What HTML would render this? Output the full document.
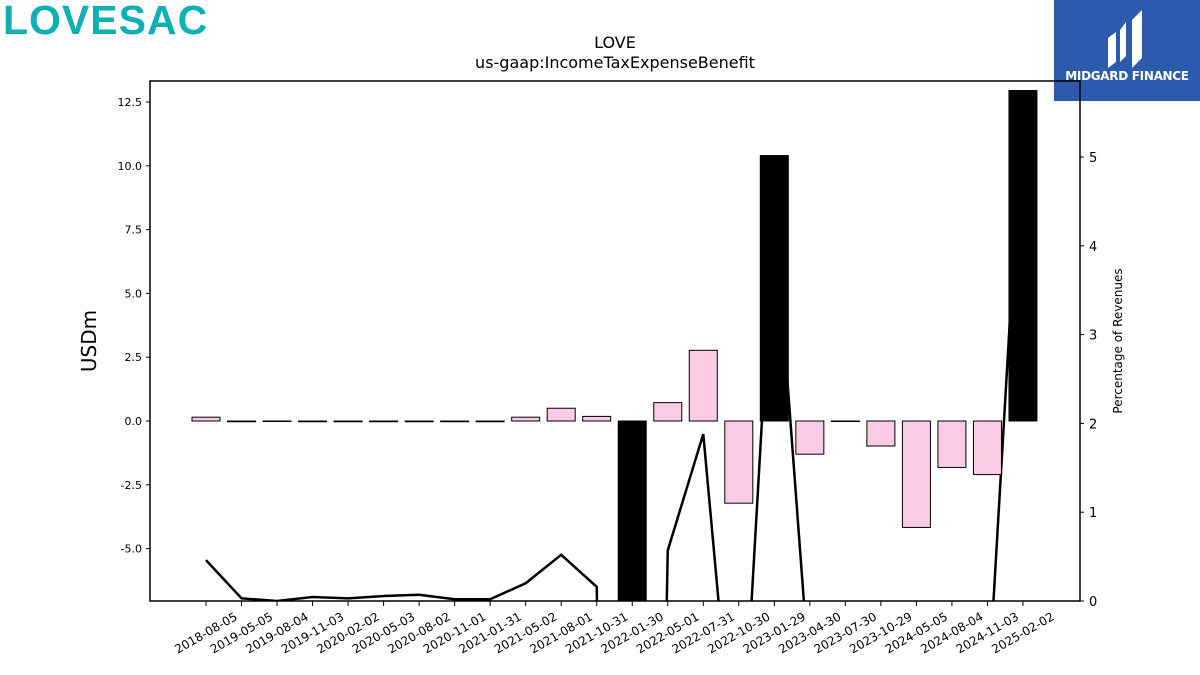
<!DOCTYPE html>
<html><head><meta charset="utf-8"><style>
body{margin:0;width:1200px;height:675px;background:#fff;overflow:hidden;font-family:"DejaVu Sans",sans-serif;position:relative}
</style></head><body>
<div style="position:absolute;left:3px;top:-3px;font:bold 41px 'Liberation Sans',sans-serif;color:#0fb0b5;letter-spacing:1px">LOVESAC</div>
<div style="position:absolute;left:1054px;top:0;width:146px;height:101px;background:#2c5aac;color:#fff">
<svg width="146" height="70"><path d="M54 38 L62 32 L62 62 L54 68Z M66 30 L72 22 L72 56 L66 62Z M78 20 L88 10 L88 58 L78 68Z" fill="#fff"/></svg>
<div style="position:absolute;left:0;width:146px;top:69px;text-align:center;font:bold 12px 'DejaVu Sans',sans-serif;letter-spacing:-0.3px">MIDGARD FINANCE</div></div>
<svg id="chart" width="1200" height="675" style="position:absolute;left:0;top:0"></svg>
<script>
const categories=["2018-08-05","2019-05-05","2019-08-04","2019-11-03","2020-02-02","2020-05-03","2020-08-02","2020-11-01","2021-01-31","2021-05-02","2021-08-01","2021-10-31","2022-01-30","2022-05-01","2022-07-31","2022-10-30","2023-01-29","2023-04-30","2023-07-30","2023-10-29","2024-05-05","2024-08-04","2024-11-03","2025-02-02"];
const barValues=[0.15,-0.03,-0.01,-0.03,-0.03,-0.03,-0.03,-0.03,-0.03,0.15,0.5,0.18,-8,0.72,2.77,-3.22,10.4,-1.3,-0.02,-0.98,-4.17,-1.82,-2.1,12.95];
const barColors=["pink","pink","pink","pink","pink","pink","pink","pink","pink","pink","pink","pink","black","pink","pink","pink","black","pink","pink","pink","pink","pink","pink","black"];
const pctValues=[0.46,0.03,0.0,0.045,0.03,0.056,0.07,0.02,0.02,0.2,0.52,0.16,-20,0.57,1.88,-2.5,4.45,-0.9,-2,-2,-2,-2,-1.16,5.68];
const leftTicks=[-5,-2.5,0,2.5,5,7.5,10,12.5];
const rightTicks=[0,1,2,3,4,5];
const svg=document.getElementById('chart');const NS='http://www.w3.org/2000/svg';
const L=150,R=1080,T=81,B=601;
const yL=v=>421-v*25.52, yR=v=>601-v*88.8, x=i=>206+i*35.52;
function mk(t,a,p){const e=document.createElementNS(NS,t);for(const k in a)e.setAttribute(k,a[k]);(p||svg).appendChild(e);return e;}
const defs=mk('defs',{});const cp=mk('clipPath',{id:'c'},defs);mk('rect',{x:L,y:T,width:R-L,height:B-T},cp);
const g=mk('g',{'clip-path':'url(#c)'});
const pl=mk('polyline',{points:pctValues.map((v,i)=>x(i)+','+yR(v)).join(' '),fill:'none',stroke:'#000','stroke-width':2.5},g);


barValues.forEach((v,i)=>{const y0=yL(0),y1=yL(v);
const r=mk('rect',{x:x(i)-14,y:Math.min(y0,y1),width:28,height:Math.max(Math.abs(y1-y0),0.5),fill:barColors[i]=='black'?'#000':'#fbcbe5',stroke:'#000','stroke-width':1},g);

});
const fr=mk('rect',{x:L,y:T,width:R-L,height:B-T,fill:'none',stroke:'#000','stroke-width':1.5});


leftTicks.forEach(v=>{const y=yL(v);mk('line',{x1:L-4,x2:L,y1:y,y2:y,stroke:'#000'});
const t=mk('text',{x:L-8,y:y+4,'text-anchor':'end','font-size':11});t.textContent=v.toFixed(1);

});
rightTicks.forEach(v=>{const y=yR(v);mk('line',{x1:R,x2:R+4,y1:y,y2:y,stroke:'#000'});
const t=mk('text',{x:R+9,y:y+5,'font-size':13});t.textContent=v;

});
categories.forEach((c,i)=>{mk('line',{x1:x(i),x2:x(i),y1:B,y2:B+5,stroke:'#000'});
const cx=x(i), cy=B+32;
const t=mk('text',{x:cx,y:cy+4,'text-anchor':'middle','font-size':12,transform:`rotate(-30 ${cx} ${cy})`});t.textContent=c;

});
let t=mk('text',{x:615,y:48,'text-anchor':'middle','font-size':16});t.textContent='LOVE';


t=mk('text',{x:615,y:68,'text-anchor':'middle','font-size':16});t.textContent='us-gaap:IncomeTaxExpenseBenefit';


t=mk('text',{x:96,y:341,'text-anchor':'middle','font-size':20,transform:'rotate(-90 96 341)'});t.textContent='USDm';


t=mk('text',{x:1122,y:341,'text-anchor':'middle','font-size':12,transform:'rotate(-90 1122 341)'});t.textContent='Percentage of Revenues';


</script>
</body></html>
